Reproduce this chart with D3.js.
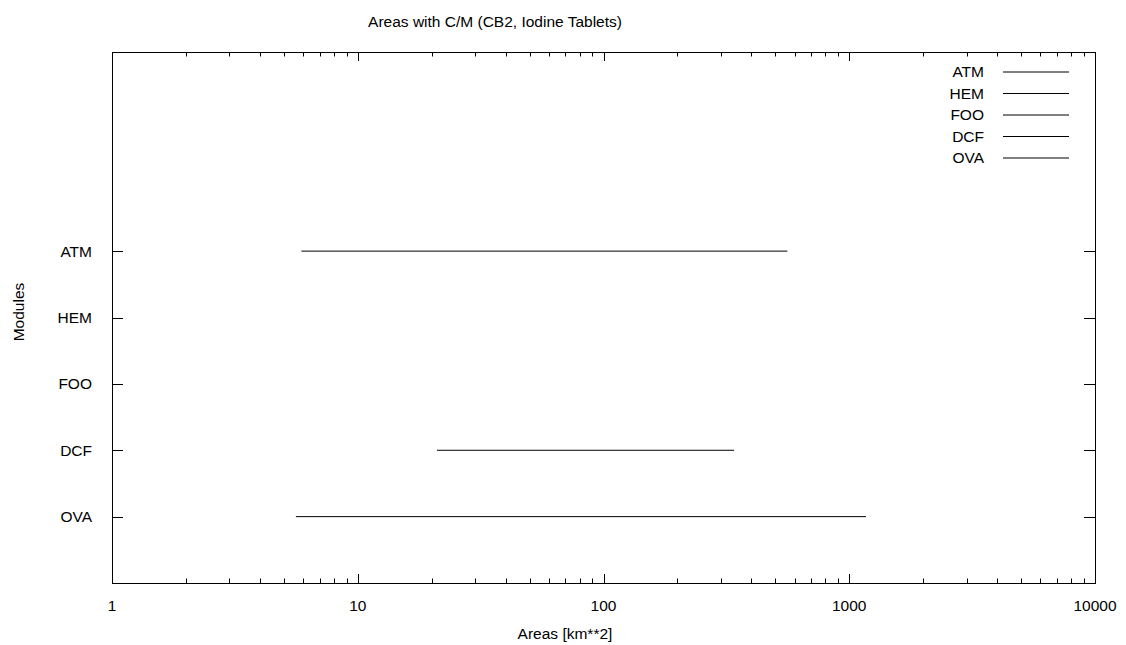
<!DOCTYPE html>
<html>
<head>
<meta charset="utf-8">
<script src="https://cdn.jsdelivr.net/npm/d3@7"></script>
<style>
  body { margin: 0; background: #fff; }
  text { font-family: "Liberation Sans", Arial, sans-serif; font-size: 15.5px; fill: #000; }
</style>
</head>
<body>
<script>
// modules, bottom to top is OVA..ATM (y = 1..5)
var modules = ["ATM", "HEM", "FOO", "DCF", "OVA"];
var modulePos = [5, 4, 3, 2, 1];
// area range per module [min, max] in km**2, null = no data
var areaMin = [5.9, null, null, 21, 5.6];
var areaMax = [560, null, null, 340, 1170];
var xTickValues = [1, 10, 100, 1000, 10000];

var width = 1126, height = 645;
var margin = { top: 52, right: 31, bottom: 62, left: 112 };

var svg = d3.select("body").append("svg")
    .attr("width", width)
    .attr("height", height);

var x = d3.scaleLog()
    .domain([1, 10000])
    .range([margin.left, width - margin.right]);

var y = d3.scaleLinear()
    .domain([0, 8])
    .range([height - margin.bottom, margin.top]);

var x0 = x.range()[0], x1 = x.range()[1];
var y0 = y.range()[0], y1 = y.range()[1];

// minor ticks 2..9 for each decade
var minorTicks = [];
for (var d = 1; d < 10000; d *= 10) {
  for (var m = 2; m < 10; m++) minorTicks.push(d * m);
}

var ticks = svg.append("g").attr("stroke", "#000").attr("stroke-width", 1);

// x ticks, bottom and mirrored top
xTickValues.forEach(function(v) {
  var px = Math.round(x(v)) + 0.5;
  ticks.append("line").attr("x1", px).attr("x2", px).attr("y1", y0).attr("y2", y0 - 9);
  ticks.append("line").attr("x1", px).attr("x2", px).attr("y1", y1).attr("y2", y1 + 9);
});
minorTicks.forEach(function(v) {
  var px = Math.round(x(v)) + 0.5;
  ticks.append("line").attr("x1", px).attr("x2", px).attr("y1", y0).attr("y2", y0 - 4.5);
  ticks.append("line").attr("x1", px).attr("x2", px).attr("y1", y1).attr("y2", y1 + 4.5);
});

// y ticks, left and mirrored right
modulePos.forEach(function(p) {
  var py = Math.round(y(p)) + 0.5;
  ticks.append("line").attr("x1", x0).attr("x2", x0 + 11).attr("y1", py).attr("y2", py);
  ticks.append("line").attr("x1", x1).attr("x2", x1 - 11).attr("y1", py).attr("y2", py);
});

// frame
svg.append("rect")
    .attr("x", Math.round(x0) + 0.5)
    .attr("y", Math.round(y1) + 0.5)
    .attr("width", Math.round(x1 - x0))
    .attr("height", Math.round(y0 - y1))
    .attr("fill", "none")
    .attr("stroke", "#000");

// tick labels
svg.append("g").selectAll("text")
  .data(xTickValues)
  .join("text")
    .attr("x", function(d) { return x(d); })
    .attr("y", y0 + 28)
    .attr("text-anchor", "middle")
    .text(function(d) { return d; });

svg.append("g").selectAll("text")
  .data(modules)
  .join("text")
    .attr("x", 92)
    .attr("y", function(d, i) { return y(modulePos[i]); })
    .attr("dy", "0.35em")
    .attr("text-anchor", "end")
    .text(function(d) { return d; });

// titles
svg.append("text")
    .attr("x", 495)
    .attr("y", 27)
    .attr("text-anchor", "middle")
    .text("Areas with C/M (CB2, Iodine Tablets)");

svg.append("text")
    .attr("x", 565)
    .attr("y", 639)
    .attr("text-anchor", "middle")
    .text("Areas [km**2]");

svg.append("text")
    .attr("transform", "translate(24,312) rotate(-90)")
    .attr("text-anchor", "middle")
    .text("Modules");

// range segments
var segs = modules.map(function(m, i) {
  return { name: m, pos: modulePos[i], lo: areaMin[i], hi: areaMax[i] };
}).filter(function(d) { return d.lo != null; });

svg.append("g").selectAll("line")
  .data(segs)
  .join("line")
    .attr("x1", function(d) { return x(d.lo); })
    .attr("x2", function(d) { return x(d.hi); })
    .attr("y1", function(d) { return y(d.pos); })
    .attr("y2", function(d) { return y(d.pos); })
    .attr("stroke", "#000")
    .attr("stroke-width", 1);

// key
var key = svg.append("g").selectAll("g")
  .data(modules)
  .join("g")
    .attr("transform", function(d, i) { return "translate(0," + (72 + i * 21.5) + ")"; });

key.append("text")
    .attr("x", 984)
    .attr("dy", "0.35em")
    .attr("text-anchor", "end")
    .text(function(d) { return d; });

key.append("line")
    .attr("x1", 1003)
    .attr("x2", 1069)
    .attr("y1", 0)
    .attr("y2", 0)
    .attr("stroke", "#000");
</script>
</body>
</html>
